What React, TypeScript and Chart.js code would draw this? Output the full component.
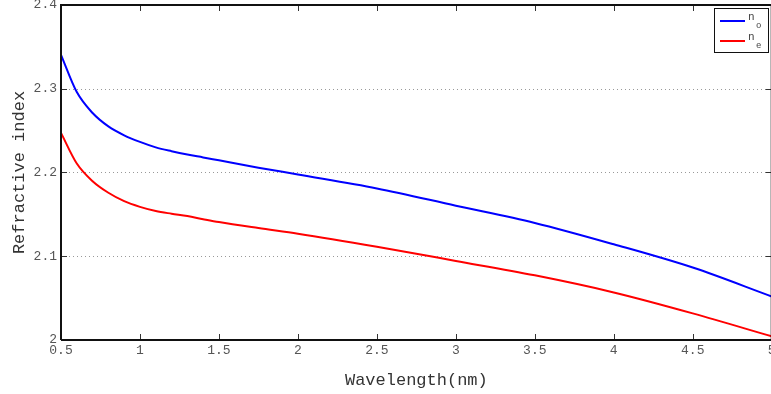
import React, { useEffect, useRef } from "react";
import { Chart, registerables } from "chart.js";

Chart.register(...registerables);

const wavelength = [0.5, 0.6, 0.7, 0.8, 0.9, 1.0, 1.1, 1.2, 1.3, 1.4, 1.5, 1.75, 2.0, 2.5, 3.0, 3.5, 4.0, 4.5, 5.0];
const nO = [2.3405, 2.296, 2.271, 2.255, 2.2444, 2.2365, 2.23, 2.2254, 2.2214, 2.218, 2.2145, 2.2058, 2.1976, 2.181, 2.1604, 2.1398, 2.1143, 2.0865, 2.052];
const nE = [2.2473, 2.2107, 2.1896, 2.1758, 2.1658, 2.159, 2.154, 2.1508, 2.148, 2.1443, 2.1408, 2.1336, 2.1269, 2.1113, 2.0944, 2.0772, 2.0568, 2.0318, 2.0044];
const xTicks = [0.5, 1, 1.5, 2, 2.5, 3, 3.5, 4, 4.5, 5];
const yTicks = [2, 2.1, 2.2, 2.3, 2.4];
const seriesNames = ["o", "e"];
const seriesColors = ["#0000ff", "#ff0000"];
const xTitle = "Wavelength(nm)";
const yTitle = "Refractive index";

const MONO = "'Liberation Mono', 'Courier New', monospace";

const framePlugin = {
  id: "frame",
  beforeDatasetsDraw(chart: any) {
    const { ctx, chartArea } = chart;
    const { left, right } = chartArea;
    const ys = chart.scales.y;
    ctx.save();
    ctx.strokeStyle = "#999";
    ctx.lineWidth = 1;
    ctx.setLineDash([1, 3]);
    yTicks.slice(1, -1).forEach((v) => {
      const py = Math.round(ys.getPixelForValue(v)) + 0.5;
      ctx.beginPath();
      ctx.moveTo(left, py);
      ctx.lineTo(right, py);
      ctx.stroke();
    });
    ctx.restore();
  },
  afterDraw(chart: any) {
    const { ctx, chartArea } = chart;
    const { left, right, top, bottom } = chartArea;
    const xs = chart.scales.x;
    const ys = chart.scales.y;
    ctx.save();
    ctx.strokeStyle = "#333";
    ctx.lineWidth = 1;
    const tl = 6;
    xTicks.forEach((v) => {
      const px = Math.round(xs.getPixelForValue(v)) + 0.5;
      ctx.beginPath();
      ctx.moveTo(px, bottom);
      ctx.lineTo(px, bottom - tl);
      ctx.moveTo(px, top);
      ctx.lineTo(px, top + tl);
      ctx.stroke();
    });
    yTicks.forEach((v) => {
      const py = Math.round(ys.getPixelForValue(v)) + 0.5;
      ctx.beginPath();
      ctx.moveTo(left, py);
      ctx.lineTo(left + tl, py);
      ctx.moveTo(right, py);
      ctx.lineTo(right - tl, py);
      ctx.stroke();
    });
    ctx.strokeStyle = "#111";
    ctx.lineWidth = 2;
    ctx.beginPath();
    ctx.moveTo(left, bottom);
    ctx.lineTo(left, top);
    ctx.lineTo(right, top);
    ctx.lineTo(right, bottom);
    ctx.lineTo(left, bottom);
    ctx.stroke();

    const bx = 714.5, by = 8.5, bw = 54, bh = 44;
    ctx.fillStyle = "#fff";
    ctx.fillRect(bx, by, bw, bh);
    ctx.strokeStyle = "#111";
    ctx.lineWidth = 1;
    ctx.strokeRect(bx, by, bw, bh);
    const rows = [21, 41];
    seriesNames.forEach((name, i) => {
      const y = rows[i];
      ctx.strokeStyle = seriesColors[i];
      ctx.lineWidth = 2;
      ctx.beginPath();
      ctx.moveTo(720, y);
      ctx.lineTo(745, y);
      ctx.stroke();
      ctx.fillStyle = "#444";
      ctx.textAlign = "left";
      ctx.textBaseline = "alphabetic";
      ctx.font = `11px ${MONO}`;
      ctx.fillText("n", 748, y - 1);
      ctx.font = `9px ${MONO}`;
      ctx.fillText(name, 756, y + 7);
    });
    ctx.restore();
  },
};

export default function App() {
  const ref = useRef<HTMLCanvasElement | null>(null);
  useEffect(() => {
    if (!ref.current) return;
    const mk = (label: string, vals: number[], color: string) => ({
      label,
      data: wavelength.map((x, i) => ({ x, y: vals[i] })),
      borderColor: color,
      borderWidth: 2,
      pointRadius: 0,
      cubicInterpolationMode: "monotone",
      fill: false,
    });
    const chart = new Chart(ref.current, {
      type: "line",
      data: {
        datasets: [mk("n_o", nO, seriesColors[0]), mk("n_e", nE, seriesColors[1])],
      },
      options: {
        responsive: false,
        animation: false,
        devicePixelRatio: 1,
        layout: { padding: { left: 0, right: 3.3, top: 5, bottom: 0 } },
        plugins: { legend: { display: false }, tooltip: { enabled: false } },
        scales: {
          x: {
            type: "linear",
            min: 0.5,
            max: 5,
            afterFit: (s: any) => {
              s.height = 54;
              s.paddingLeft = 0;
              s.paddingRight = 0;
            },
            afterBuildTicks: (s: any) => {
              s.ticks = xTicks.map((v) => ({ value: v }));
            },
            ticks: {
              padding: 3,
              maxRotation: 0,
              autoSkip: false,
              color: "#555",
              font: { family: MONO, size: 13 },
              callback: (v: any) => String(v),
            },
            grid: { display: false, drawTicks: false },
            border: { display: false },
            title: {
              display: true,
              text: xTitle,
              color: "#333",
              font: { family: MONO, size: 17 },
              padding: { top: 0, bottom: 3 },
            },
          },
          y: {
            type: "linear",
            min: 2,
            max: 2.4,
            afterFit: (s: any) => {
              s.width = 61;
              s.paddingTop = 0;
              s.paddingBottom = 0;
            },
            afterBuildTicks: (s: any) => {
              s.ticks = yTicks.map((v) => ({ value: v }));
            },
            ticks: {
              padding: 4,
              autoSkip: false,
              color: "#555",
              font: { family: MONO, size: 13 },
              callback: (v: any) => String(Math.round(v * 10) / 10),
            },
            grid: { display: false, drawTicks: false },
            border: { display: false },
            title: {
              display: true,
              text: yTitle,
              color: "#333",
              font: { family: MONO, size: 17 },
              padding: { top: 9, bottom: 0 },
            },
          },
        },
      },
      plugins: [framePlugin],
    } as any);
    return () => chart.destroy();
  }, []);
  return (
    <div
      style={{
        position: "fixed",
        left: 0,
        top: 0,
        width: 771,
        height: 394,
        overflow: "hidden",
        background: "#fff",
      }}
    >
      <canvas ref={ref} width={775} height={394} style={{ width: 775, height: 394, display: "block" }} />
    </div>
  );
}
